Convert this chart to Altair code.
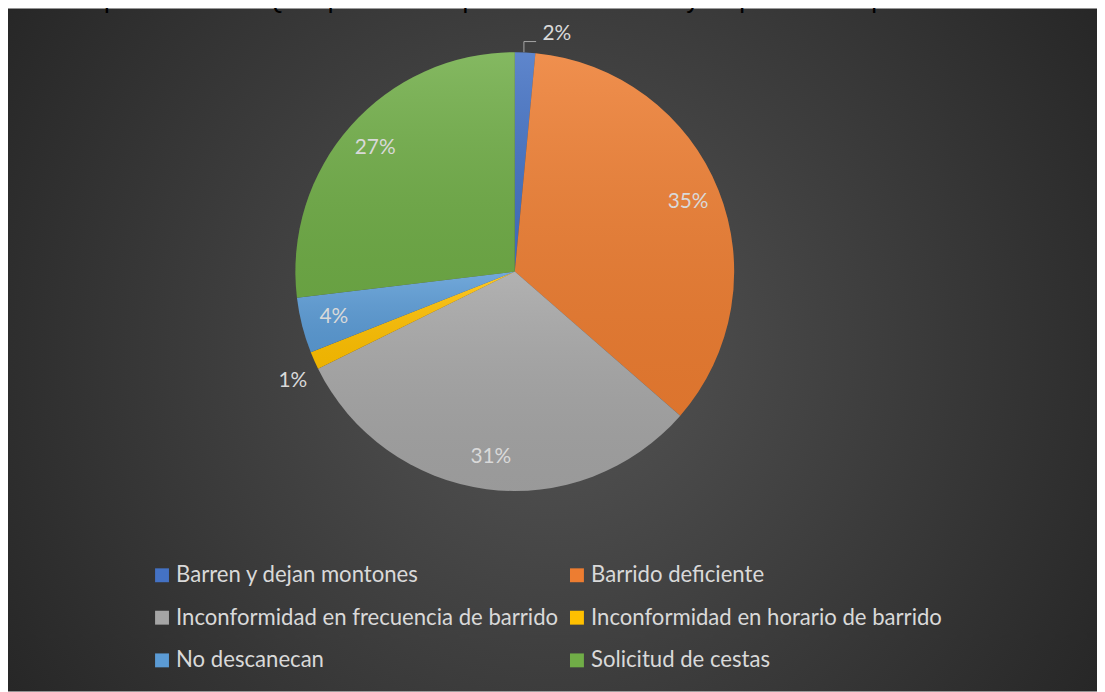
import math
import altair as alt
import pandas as pd

categorias = [
    "Barren y dejan montones",
    "Barrido deficiente",
    "Inconformidad en frecuencia de barrido",
    "Inconformidad en horario de barrido",
    "No descanecan",
    "Solicitud de cestas",
]
valores = [1.5, 34.9, 31.3, 1.3, 4.1, 26.9]
colores = ["#4472C4", "#ED7D31", "#A5A5A5", "#FFC000", "#5B9BD5", "#70AD47"]
titulo = "Gráfica 8. Comportamiento PQRS para el componente de barrido y limpieza en el periodo octubre de 2019"

df = pd.DataFrame({"categoria": categorias, "valor": valores, "orden": list(range(len(categorias)))})

W, H = 1097, 686
CX, CY = 510.5, 263
R = 221
FONT = "Lato"
TXT = "#D9D9D9"

base = alt.Chart(df).transform_window(
    acum="sum(valor)", sort=[alt.SortField("orden")], frame=[None, 0]
).transform_calculate(
    inicio="datum.acum - datum.valor",
    medio="datum.acum - datum.valor / 2",
    etiqueta="format(round(datum.valor), 'd') + '%'",
)
theta_scale = alt.Scale(domain=[0, 100], range=[0, 2 * math.pi])

one = alt.Data(values=[{}])

fondo = alt.Chart(one).mark_rect(
    fill={
        "gradient": "radial",
        "x1": 0.5, "y1": 0.5, "r1": 0,
        "x2": 0.5, "y2": 0.5, "r2": 0.6,
        "stops": [
            {"offset": 0, "color": "#555555"},
            {"offset": 1, "color": "#262626"},
        ],
    }
).encode(x=alt.value(0), x2=alt.value(W), y=alt.value(-2), y2=alt.value(H))

tit = alt.Chart(one).mark_text(
    text=titulo, align="left", baseline="alphabetic",
    font="Liberation Sans", fontSize=26, color="#000000",
).encode(x=alt.value(-78), y=alt.value(-2.5))

pie = base.mark_arc(outerRadius=R, x=CX, y=CY).encode(
    theta=alt.Theta("inicio:Q", scale=theta_scale),
    theta2="acum:Q",
    color=alt.Color(
        "categoria:N",
        scale=alt.Scale(domain=categorias, range=colores),
        sort=categorias,
        legend=alt.Legend(
            title=None, orient="none", legendX=144, legendY=557.5,
            direction="horizontal",
            columns=2, symbolType="square", symbolSize=196,
            symbolStrokeWidth=0, labelFont=FONT, labelFontSize=22.3,
            labelColor=TXT, labelOffset=3, rowPadding=20,
            columnPadding=7, labelLimit=1000, padding=0,
        ),
    ),
)

brillo = base.mark_arc(
    outerRadius=R, x=CX, y=CY,
    fill={
        "gradient": "linear", "x1": 0, "y1": 0, "x2": 0, "y2": 1,
        "stops": [
            {"offset": 0, "color": "rgba(255,255,255,0.14)"},
            {"offset": 1, "color": "rgba(0,0,0,0.07)"},
        ],
    },
).encode(theta=alt.Theta("inicio:Q", scale=theta_scale), theta2="acum:Q")

internas = base.transform_filter("datum.valor >= 3").mark_text(
    radius=188, x=CX, y=CY, font=FONT, fontSize=21, color=TXT,
    align="center", baseline="middle",
).encode(theta=alt.Theta("medio:Q", scale=theta_scale), text="etiqueta:N")

amarilla = base.transform_filter(
    alt.datum.categoria == "Inconformidad en horario de barrido"
).mark_text(
    radius=250, x=CX, y=CY, dx=5, dy=9, font=FONT, fontSize=21, color=TXT,
    align="center", baseline="middle",
).encode(theta=alt.Theta("medio:Q", scale=theta_scale), text="etiqueta:N")

azul = base.transform_filter(
    alt.datum.categoria == "Barren y dejan montones"
).mark_text(
    radius=241, x=CX, y=CY, dx=31, dy=1, font=FONT, fontSize=21, color=TXT,
    align="center", baseline="middle",
).encode(theta=alt.Theta("medio:Q", scale=theta_scale), text="etiqueta:N")

guia_v = alt.Chart(one).mark_rule(color="#A6A6A6", strokeWidth=1).encode(
    x=alt.value(519.7), y=alt.value(31.3), y2=alt.value(42)
)
guia_h = alt.Chart(one).mark_rule(color="#A6A6A6", strokeWidth=1).encode(
    x=alt.value(519.7), x2=alt.value(532), y=alt.value(31.3)
)

chart = alt.layer(
    fondo, tit, pie, brillo, internas, amarilla, azul, guia_v, guia_h
).properties(
    width=W, height=H, padding=0,
    autosize=alt.AutoSizeParams(type="none"),
    background="#FFFFFF",
).configure_view(stroke=None)

chart.save("out.html", embed_options={"renderer": "svg", "actions": False})
